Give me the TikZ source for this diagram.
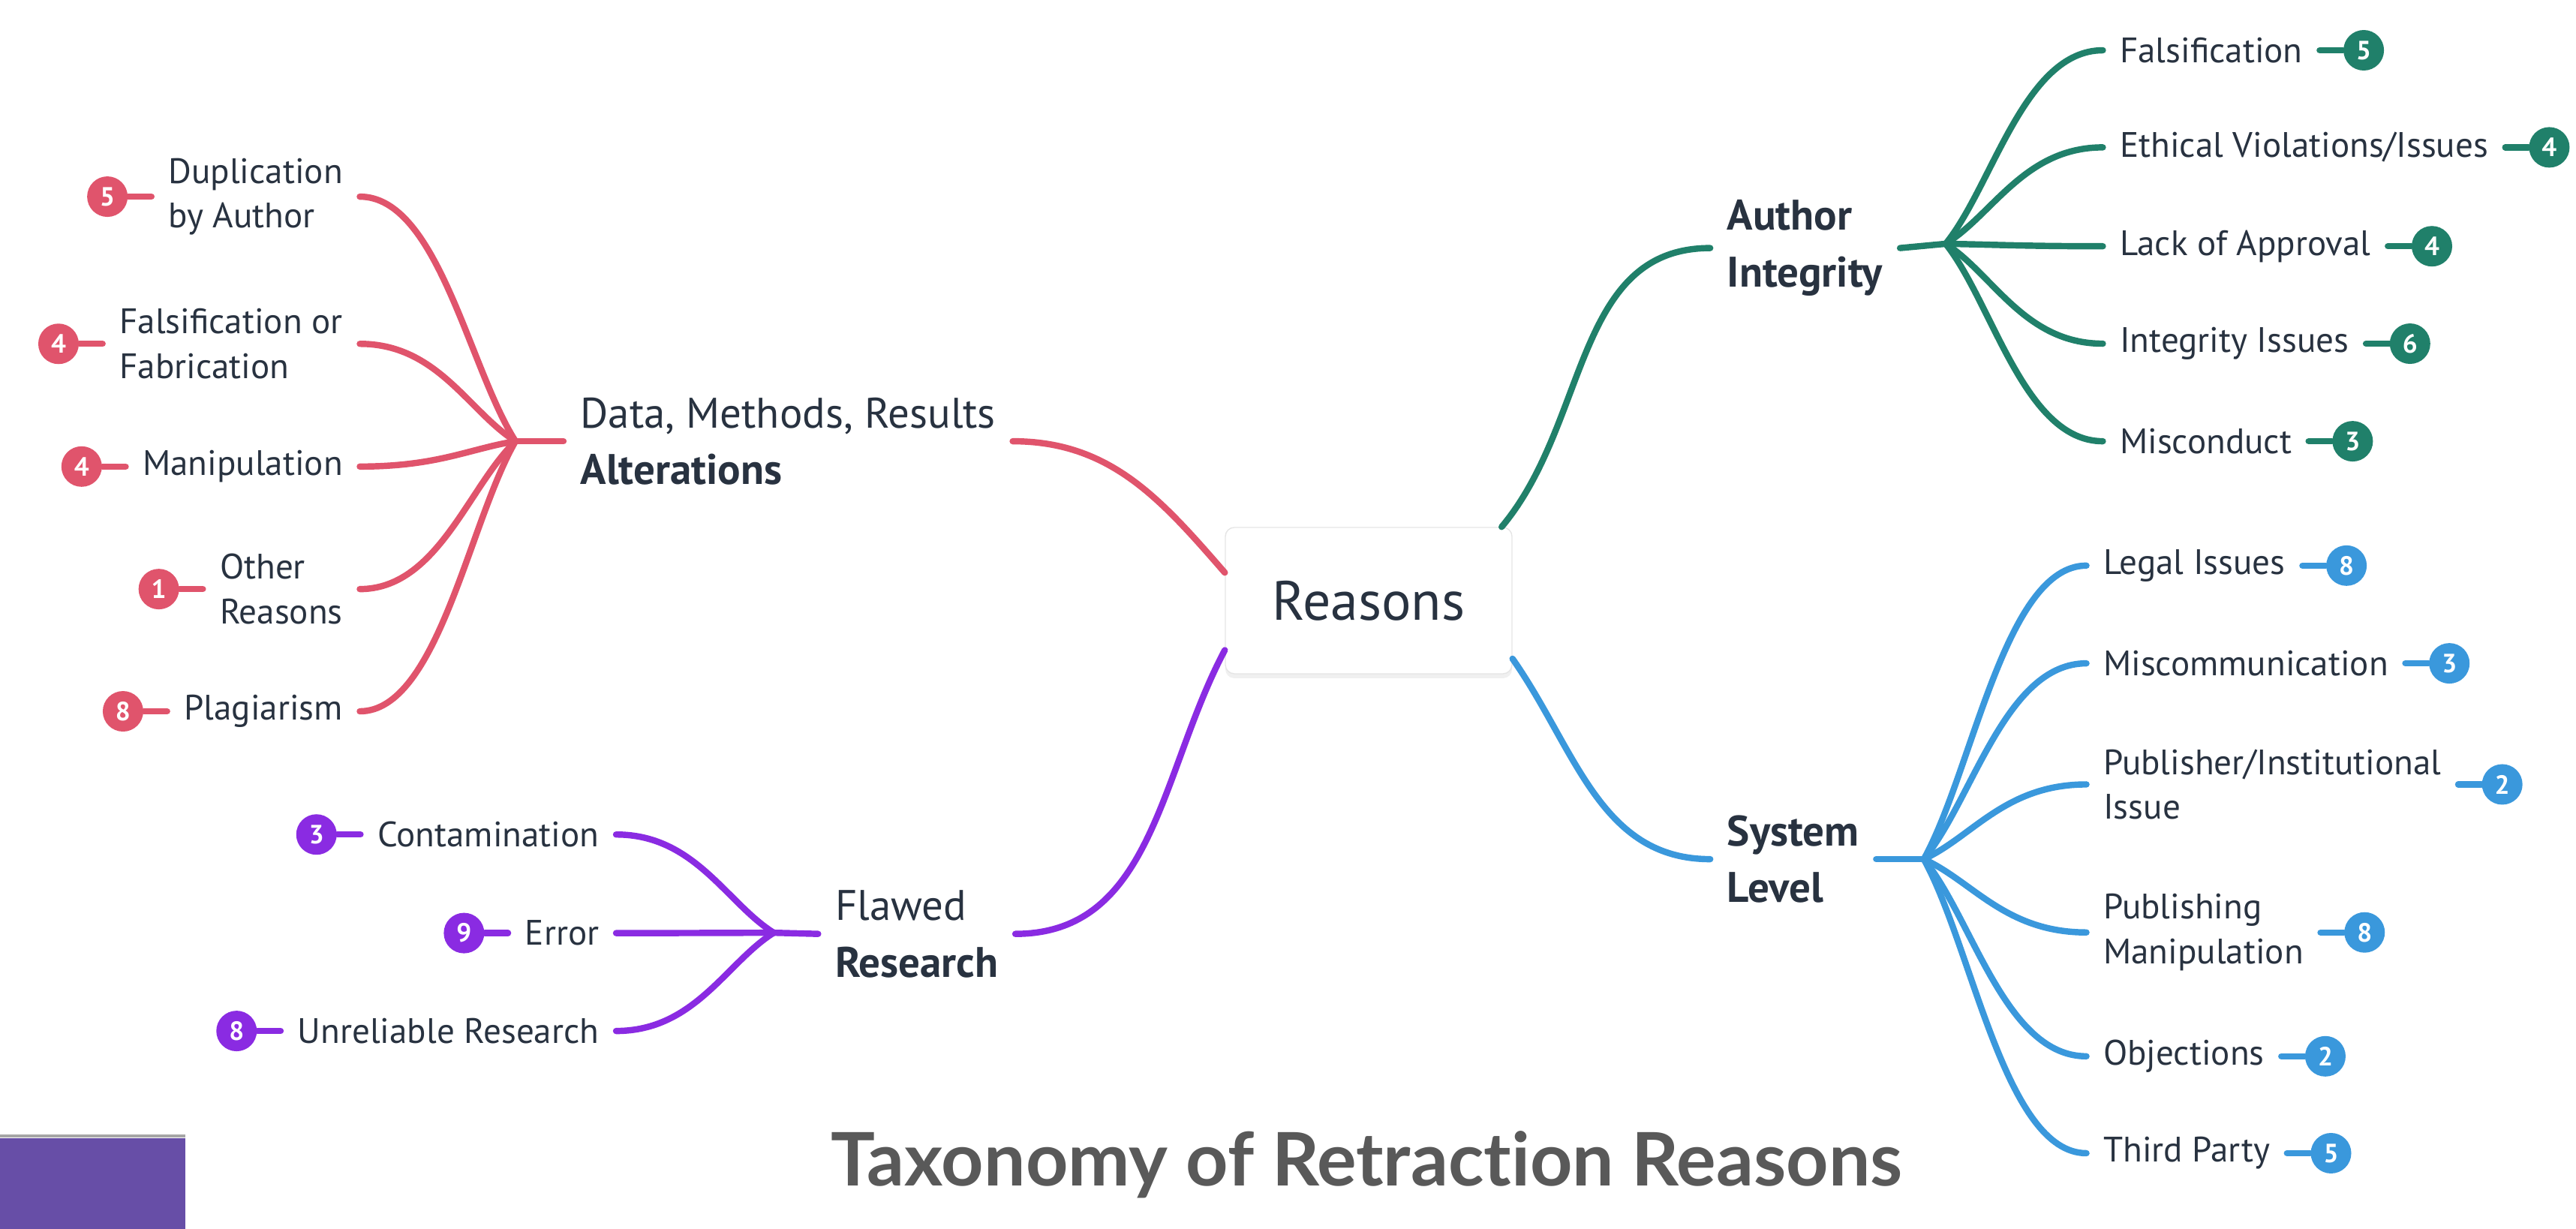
\documentclass[tikz,border=0pt]{standalone}
\usepackage{fontspec}
\setmainfont{PT Sans}
\newfontfamily\titlefont[Ligatures=NoCommon]{Lato}
\usetikzlibrary{positioning,calc,shadows}
\definecolor{inkcol}{RGB}{40,50,64}
\definecolor{redbr}{RGB}{224,84,108}
\definecolor{greenbr}{RGB}{32,128,106}
\definecolor{bluebr}{RGB}{58,152,220}
\definecolor{purplebr}{RGB}{138,43,226}
\definecolor{titlegray}{RGB}{89,89,89}
\definecolor{slidepurple}{HTML}{674EA7}
\begin{document}
\begin{tikzpicture}[x=0.21894mm, y=0.21894mm,
    branch/.style={line width=2.4pt, line cap=round},
    twig/.style={to path={.. controls ($(\tikztostart)!0.3!(\tikztotarget)$) and ($(\tikztotarget)!0.5!(\tikztotarget -| \tikztostart)$) .. (\tikztotarget)}},
    badge/.style={circle, fill=#1, text=white, inner sep=0pt, minimum size=5.4mm, font=\fontsize{10}{10}\selectfont\bfseries},
    leaf/.style={text=inkcol, align=left, inner xsep=2.2mm, inner ysep=0pt, font=\fontsize{13.4}{17}\selectfont},
    group/.style={text=inkcol, align=left, inner xsep=2.2mm, inner ysep=0pt, font=\fontsize{16.2}{21.5}\selectfont}]
    \useasboundingbox (0,0) rectangle (1568,-748);

    \node[draw=black!10, fill=white, rounded corners=1.2mm, minimum width=38.2mm, minimum height=19.5mm,
        text=inkcol, font=\fontsize{21}{21}\selectfont,
        drop shadow={opacity=0.12, shadow xshift=0mm, shadow yshift=-0.6mm}] (R) at (833.1,-365.6) {Reasons};

    \begin{scope}[every node/.style={group, anchor=west}]
        \node (D) at (343,-268.6) {Data, Methods, Results\\\textbf{Alterations}};
        \node (F) at (498,-568.5) {Flawed\\\textbf{Research}};
        \node (A) at (1041,-151) {\textbf{Author}\\\textbf{Integrity}};
        \node (S) at (1041,-523) {\textbf{System}\\\textbf{Level}};
    \end{scope}

    \coordinate (hD) at (313.8,-268.6);
    \coordinate (hF) at (471,-567.8);
    \coordinate (hA) at (1184.3,-148.4);
    \coordinate (hS) at (1171,-523);

    \begin{scope}[every node/.style={leaf, anchor=east}]
        \node (D1) at (219,-119.7) {Duplication\\by Author};
        \node (D2) at (219,-209.3) {Falsification or\\Fabrication};
        \node (D3) at (219,-284) {Manipulation};
        \node (D4) at (219,-358.6) {Other\\Reasons};
        \node (D5) at (219,-433) {Plagiarism};
        \node (F1) at (375,-508) {Contamination};
        \node (F2) at (375,-568) {Error};
        \node (F3) at (375,-627.6) {Unreliable Research};
    \end{scope}

    \begin{scope}[every node/.style={leaf, anchor=west}]
        \node (A1) at (1280,-30.6) {Falsification};
        \node (A2) at (1280,-89.7) {Ethical Violations/Issues};
        \node (A3) at (1280,-149.9) {Lack of Approval};
        \node (A4) at (1280,-209.2) {Integrity Issues};
        \node (A5) at (1280,-268.6) {Misconduct};
        \node (S1) at (1270,-344.3) {Legal Issues};
        \node (S2) at (1270,-403.8) {Miscommunication};
        \node (S3) at (1270,-477.5) {Publisher/Institutional\\Issue};
        \node (S4) at (1270,-567.6) {Publishing\\Manipulation};
        \node (S5) at (1270,-643) {Objections};
        \node (S6) at (1270,-702) {Third Party};
    \end{scope}

    \begin{scope}[every node/.style={badge=redbr}]
        \node[left=3.1mm of D1] (nD1) {5};
        \node[left=3.1mm of D2] (nD2) {4};
        \node[left=3.1mm of D3] (nD3) {4};
        \node[left=3.1mm of D4] (nD4) {1};
        \node[left=3.1mm of D5] (nD5) {8};
    \end{scope}
    \begin{scope}[every node/.style={badge=purplebr}]
        \node[left=3.1mm of F1] (nF1) {3};
        \node[left=3.1mm of F2] (nF2) {9};
        \node[left=3.1mm of F3] (nF3) {8};
    \end{scope}
    \begin{scope}[every node/.style={badge=greenbr}]
        \node[right=3.1mm of A1] (nA1) {5};
        \node[right=3.1mm of A2] (nA2) {4};
        \node[right=3.1mm of A3] (nA3) {4};
        \node[right=3.1mm of A4] (nA4) {6};
        \node[right=3.1mm of A5] (nA5) {3};
    \end{scope}
    \begin{scope}[every node/.style={badge=bluebr}]
        \node[right=3.1mm of S1] (nS1) {8};
        \node[right=3.1mm of S2] (nS2) {3};
        \node[right=3.1mm of S3] (nS3) {2};
        \node[right=3.1mm of S4] (nS4) {8};
        \node[right=3.1mm of S5] (nS5) {2};
        \node[right=3.1mm of S6] (nS6) {5};
    \end{scope}

    \path[branch, redbr] (D.east) edge[out=0, in=131] (R.169.5);
    \path[branch, purplebr] (F.east) edge[out=0, in=242] (R.199.1);
    \path[branch, greenbr] (R.29.2) edge[out=50, in=180] (A.west);
    \path[branch, bluebr] (R.338.1) edge[out=-55, in=180] (S.west);

    \path[branch, redbr] (hD) edge (D.west)
        edge[twig] (D1.east) edge[twig] (D2.east) edge[twig] (D3.east) edge[twig] (D4.east) edge[twig] (D5.east);
    \path[branch, purplebr] (hF) edge (F.west)
        edge[twig] (F1.east) edge[twig] (F2.east) edge[twig] (F3.east);
    \path[branch, greenbr] (hA) edge (A.east)
        edge[twig] (A1.west) edge[twig] (A2.west) edge[twig] (A3.west) edge[twig] (A4.west) edge[twig] (A5.west);
    \path[branch, bluebr] (hS) edge (S.east)
        edge[twig] (S1.west) edge[twig] (S2.west) edge[twig] (S3.west) edge[twig] (S4.west) edge[twig] (S5.west) edge[twig] (S6.west);

    \path[branch, redbr] (nD1) edge (D1) (nD2) edge (D2) (nD3) edge (D3) (nD4) edge (D4) (nD5) edge (D5);
    \path[branch, purplebr] (nF1) edge (F1) (nF2) edge (F2) (nF3) edge (F3);
    \path[branch, greenbr] (A1) edge (nA1) (A2) edge (nA2) (A3) edge (nA3) (A4) edge (nA4) (A5) edge (nA5);
    \path[branch, bluebr] (S1) edge (nS1) (S2) edge (nS2) (S3) edge (nS3) (S4) edge (nS4) (S5) edge (nS5) (S6) edge (nS6);

    \node[anchor=base, text=titlegray, font=\titlefont\fontsize{28}{28}\selectfont\bfseries] (T) at (832,-722) {Taxonomy of Retraction Reasons};
    \fill[slidepurple] (0,-693) rectangle (113,-748);
    \draw[black!35, line width=0.35mm] (0,-691.5) -- (113,-691.5);
\end{tikzpicture}
\end{document}
